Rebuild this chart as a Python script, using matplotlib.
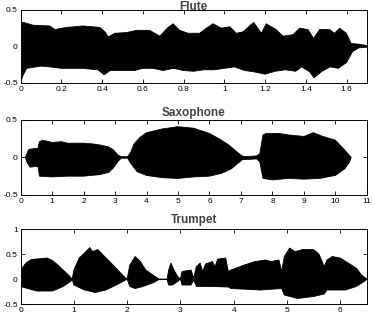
import matplotlib
matplotlib.use("Agg")
import matplotlib.pyplot as plt
import numpy as np

plt.rcParams["font.family"] = ["Liberation Sans", "DejaVu Sans"]

# envelope readings (time in s, amplitude)
flute_t_top = [0.0, 0.013, 0.062, 0.144, 0.168, 0.226, 0.307, 0.389, 0.414, 0.43, 0.463, 0.52,
               0.569, 0.634, 0.683, 0.724, 0.749, 0.781, 0.822, 0.879, 0.912, 0.945, 0.986,
               1.027, 1.059, 1.092, 1.144, 1.182, 1.206, 1.255, 1.288, 1.337, 1.37, 1.411,
               1.438, 1.468, 1.517, 1.541, 1.566, 1.599, 1.623, 1.664, 1.7]
flute_top = [0.32, 0.33, 0.29, 0.28, 0.23, 0.26, 0.28, 0.26, 0.20, 0.13, 0.18, 0.19,
             0.22, 0.22, 0.14, 0.26, 0.31, 0.22, 0.18, 0.18, 0.25, 0.31, 0.25,
             0.27, 0.18, 0.20, 0.33, 0.18, 0.31, 0.23, 0.14, 0.16, 0.25, 0.23,
             0.11, 0.23, 0.23, 0.18, 0.25, 0.18, 0.04, 0.03, 0.01]
flute_t_bot = [0.0, 0.013, 0.03, 0.1, 0.144, 0.2, 0.3, 0.38, 0.41, 0.44, 0.5, 0.56, 0.6, 0.65,
               0.7, 0.75, 0.8, 0.85, 0.9, 0.95, 1.0, 1.05, 1.1, 1.15, 1.2, 1.25, 1.3, 1.35,
               1.38, 1.42, 1.44, 1.48, 1.52, 1.56, 1.6, 1.63, 1.66, 1.7]
flute_bot = [-0.49, -0.39, -0.30, -0.27, -0.28, -0.30, -0.30, -0.32, -0.39, -0.33, -0.33, -0.33,
             -0.30, -0.30, -0.33, -0.30, -0.33, -0.34, -0.32, -0.32, -0.30, -0.28, -0.33,
             -0.35, -0.38, -0.34, -0.32, -0.34, -0.28, -0.35, -0.43, -0.34, -0.28, -0.30,
             -0.22, -0.07, -0.02, -0.01]

sax_t_top = [0.0, 0.15, 0.2, 0.25, 0.3, 0.5, 0.55, 0.6, 0.7, 1.0, 1.3, 1.5, 2.0, 2.3, 2.6, 2.8,
             2.95, 3.1, 3.2, 3.4, 3.5, 3.6, 3.8, 4.0, 4.5, 5.0, 5.5, 6.0, 6.3, 6.6, 6.8, 7.0,
             7.1, 7.5, 7.6, 7.7, 7.8, 8.2, 8.5, 9.0, 9.3, 9.6, 10.0, 10.2, 10.4, 10.5]
sax_top = [0.0, 0.0, 0.05, 0.10, 0.11, 0.12, 0.12, 0.21, 0.23, 0.20, 0.21, 0.19, 0.19, 0.18,
           0.16, 0.14, 0.10, 0.03, 0.01, 0.01, 0.07, 0.18, 0.27, 0.33, 0.38, 0.41, 0.39,
           0.32, 0.25, 0.17, 0.10, 0.03, 0.01, 0.02, 0.05, 0.30, 0.32, 0.32, 0.30, 0.28,
           0.33, 0.28, 0.23, 0.14, 0.05, 0.0]
sax_t_bot = [0.0, 0.15, 0.2, 0.3, 0.5, 0.55, 0.6, 1.0, 1.5, 2.0, 2.5, 2.8, 2.95, 3.1, 3.2, 3.4,
             3.5, 3.7, 4.0, 4.5, 5.0, 5.5, 6.0, 6.4, 6.7, 6.9, 7.05, 7.5, 7.6, 7.7, 8.0, 8.5,
             9.0, 9.5, 10.0, 10.3, 10.45, 10.5]
sax_bot = [0.0, 0.0, -0.06, -0.13, -0.12, -0.12, -0.25, -0.26, -0.25, -0.25, -0.23, -0.20,
           -0.14, -0.05, -0.01, -0.01, -0.08, -0.19, -0.24, -0.27, -0.28, -0.26, -0.25,
           -0.21, -0.15, -0.08, -0.03, -0.02, -0.06, -0.28, -0.30, -0.28, -0.29, -0.28,
           -0.24, -0.15, -0.06, 0.0]

trumpet_t_top = [0.0, 0.1, 0.2, 0.3, 0.5, 0.6, 0.7, 0.8, 0.9, 0.97, 1.0, 1.1, 1.2, 1.3, 1.35,
                 1.45, 1.55, 1.7, 1.85, 1.97, 2.0, 2.05, 2.15, 2.25, 2.35, 2.5, 2.6, 2.75,
                 2.78, 2.82, 2.88, 2.95, 3.0, 3.03, 3.2, 3.25, 3.3, 3.37, 3.42, 3.47, 3.6,
                 3.65, 3.7, 3.85, 3.9, 3.95, 4.2, 4.4, 4.6, 4.7, 4.85, 4.9, 4.95, 5.05, 5.15,
                 5.3, 5.5, 5.6, 5.7, 5.75, 5.85, 6.0, 6.15, 6.3, 6.4, 6.5]
trumpet_top = [0.18, 0.32, 0.39, 0.40, 0.42, 0.37, 0.28, 0.18, 0.08, 0.0, 0.18, 0.42, 0.52,
               0.63, 0.55, 0.59, 0.48, 0.32, 0.15, 0.02, 0.0, 0.28, 0.45, 0.35, 0.18, 0.07,
               0.0, 0.0, 0.18, 0.32, 0.18, 0.05, 0.0, 0.15, 0.18, 0.02, 0.25, 0.32, 0.15,
               0.30, 0.35, 0.25, 0.40, 0.42, 0.15, 0.18, 0.28, 0.35, 0.38, 0.35, 0.38, 0.15,
               0.45, 0.62, 0.55, 0.59, 0.59, 0.50, 0.25, 0.38, 0.45, 0.42, 0.32, 0.22, 0.08,
               0.0]
trumpet_t_bot = [0.0, 0.3, 0.6, 0.8, 0.95, 0.97, 1.0, 1.2, 1.4, 1.6, 1.8, 1.97, 2.0, 2.05, 2.15,
                 2.3, 2.5, 2.6, 2.75, 2.78, 2.85, 2.95, 3.0, 3.03, 3.2, 3.25, 3.3, 3.6, 3.9,
                 3.95, 4.5, 4.9, 4.95, 5.2, 5.5, 5.7, 5.75, 6.1, 6.3, 6.45, 6.5]
trumpet_bot = [-0.15, -0.24, -0.24, -0.15, -0.04, 0.0, -0.12, -0.22, -0.27, -0.22, -0.12,
               -0.02, 0.0, -0.15, -0.19, -0.15, -0.07, -0.01, -0.01, -0.12, -0.12, -0.05,
               0.0, -0.12, -0.12, -0.02, -0.15, -0.15, -0.16, -0.19, -0.22, -0.19, -0.32,
               -0.39, -0.35, -0.30, -0.22, -0.22, -0.15, -0.05, 0.0]

panels = [
    ("Flute", flute_t_top, flute_top, flute_t_bot, flute_bot, (0, 1.7), (-0.5, 0.5),
     [0, 0.2, 0.4, 0.6, 0.8, 1, 1.2, 1.4, 1.6], [-0.5, 0, 0.5], [0.055, 0.740, 0.926, 0.229], 0),
    ("Saxophone", sax_t_top, sax_top, sax_t_bot, sax_bot, (0, 11), (-0.5, 0.5),
     list(range(12)), [-0.5, 0, 0.5], [0.055, 0.389, 0.926, 0.235], 3),
    ("Trumpet", trumpet_t_top, trumpet_top, trumpet_t_bot, trumpet_bot, (0, 6.5), (-0.5, 1),
     list(range(7)), [-0.5, 0, 0.5, 1], [0.055, 0.047, 0.926, 0.235], 4),
]

fig = plt.figure(figsize=(3.74, 3.19), dpi=100)
for name, tt, top, tb, bot, xl, yl, xt, yt, rect, pad in panels:
    ax = fig.add_axes(rect)
    xs = np.concatenate([tt, tb[::-1]])
    ys = np.concatenate([top, bot[::-1]])
    ax.fill(xs, ys, color="black", lw=0.6)
    ax.set_xlim(xl)
    ax.set_ylim(yl)
    ax.set_xticks(xt)
    ax.set_yticks(yt)
    ax.set_xticklabels([f"{v:g}" for v in xt])
    ax.set_yticklabels([f"{v:g}" for v in yt])
    ax.tick_params(direction="in", length=3, width=0.6, labelsize=6, pad=2,
                   top=True, right=True)
    for s in ax.spines.values():
        s.set_linewidth(0.7)
    ax.set_title(name, fontsize=8.5, fontweight="bold", color="#444444", pad=pad)

fig.savefig("out.png", dpi=100)
